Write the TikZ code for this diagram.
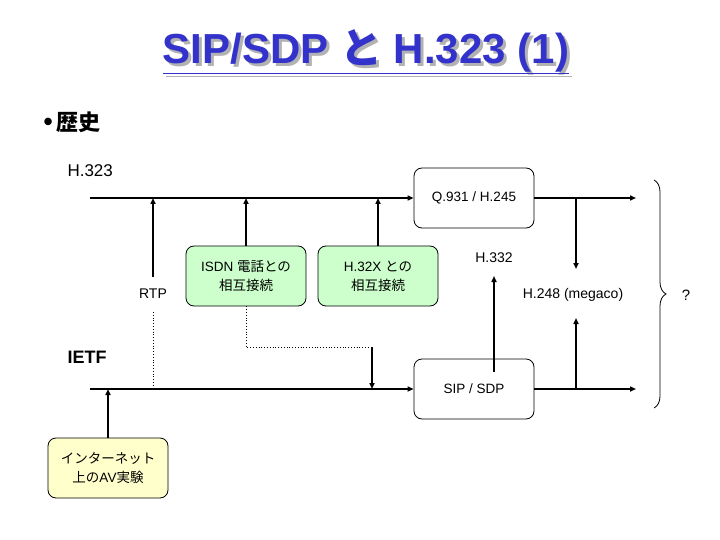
\documentclass[tikz,border=0pt]{standalone}
\usepackage{fontspec}
\setmainfont{Liberation Sans}
\newfontfamily\jp{Noto Sans CJK JP}
\usepackage{xcolor}
\usetikzlibrary{arrows.meta, decorations.pathreplacing, positioning}

\definecolor{titleblue}{RGB}{51,51,204}
\definecolor{boxgreen}{RGB}{204,255,204}
\definecolor{boxyellow}{RGB}{255,255,204}

\newcommand{\titlestring}{\underline{SIP/SDP {\jp と} H.323 (1)}}

\begin{document}
\begin{tikzpicture}[
    x=1pt, y=-1pt,
    block/.style={rectangle, draw, rounded corners=8pt, minimum width=120pt, minimum height=60pt, align=center, font=\fontsize{13.5}{19}\selectfont, line width=0.8pt},
    arrow/.style={-{Triangle[length=6pt,width=5pt]}, line width=1.6pt},
    wire/.style={line width=1.6pt},
    dotline/.style={dotted, line width=0.8pt},
    lbl/.style={font=\fontsize{14}{16}\selectfont},
    titletext/.style={font=\bfseries\fontsize{42}{46}\selectfont}
]

\useasboundingbox[fill=white] (0,0) rectangle (720,540);

% title and headings
\node[titletext, text=titleblue] (title) at (366,53) {\rlap{\kern3pt\raisebox{-3pt}{\color{black!30}\titlestring}}\titlestring};
\node[anchor=west, font=\bfseries\fontsize{22}{26}\selectfont] (history) at (40,122) {{\fontsize{26}{26}\selectfont\textbullet}\,{\jp 歴史}};
\node[anchor=west, font=\fontsize{17}{20}\selectfont] (h323) at (64,171) {H.323};
\node[anchor=west, font=\bfseries\fontsize{18}{22}\selectfont] (ietf) at (64,357) {IETF};

% boxes
\node[block] (q931) at (474,198) {Q.931 / H.245};
\node[block] (sip) at (474,389) {SIP / SDP};
\node[block, fill=boxgreen] (isdn) at (246,276) {ISDN {\jp 電話との}\\{\jp 相互接続}};
\node[block, fill=boxgreen] (h32x) at (378,276) {H.32X {\jp との}\\{\jp 相互接続}};
\node[block, fill=boxyellow] (avexp) at (108,468) {{\jp インターネット}\\{\jp 上の}AV{\jp 実験}};

% labels
\node[lbl] (rtp) at (153,294) {RTP};
\node[lbl] (h332) at (494,258) {H.332};
\node[lbl] (megaco) at (573,295) {H.248 (megaco)};
\node[font=\fontsize{15}{17}\selectfont] (unknown) at (686,295) {?};

% line ends
\coordinate (h323start) at (90,198);
\coordinate (h323end) at (636,198);
\coordinate (ietfstart) at (90,389);
\coordinate (ietfend) at (636,389);
\coordinate (rtpstub) at (153,277);
\coordinate (rtpdot) at (153,312);
\coordinate (isdnbend) at (246,347);
\coordinate (isdnjoin) at (372,347);
\coordinate (h332end) at (494,276);
\coordinate (h332start) at (494,372);
\coordinate (mgdown) at (576,269);
\coordinate (mgup) at (576,318);

% H.323 line
\draw[arrow] (h323start) -- (q931);
\draw[arrow] (q931) -- (h323end);
\draw[arrow] (rtpstub) -- (rtpstub|-h323start);
\draw[arrow] (isdn.north) -- (isdn.north|-h323start);
\draw[arrow] (h32x.north) -- (h32x.north|-h323start);
\draw[arrow] (mgdown|-h323start) -- (mgdown);

% IETF line
\draw[arrow] (ietfstart) -- (sip);
\draw[arrow] (sip) -- (ietfend);
\draw[arrow] (avexp.north) -- (avexp.north|-ietfstart);
\draw[dotline] (rtpdot) -- (rtpdot|-ietfstart);
\draw[dotline] (isdn.south) -- (isdnbend) -- (isdnjoin);
\draw[arrow] (isdnjoin) -- (isdnjoin|-ietfstart);
\draw[arrow] (h332start) -- (h332end);
\draw[arrow] (mgup|-ietfstart) -- (mgup);

% brace
\draw[decorate, decoration={brace, amplitude=12pt}, line width=0.8pt] (654,180) -- (654,408);

\end{tikzpicture}
\end{document}
